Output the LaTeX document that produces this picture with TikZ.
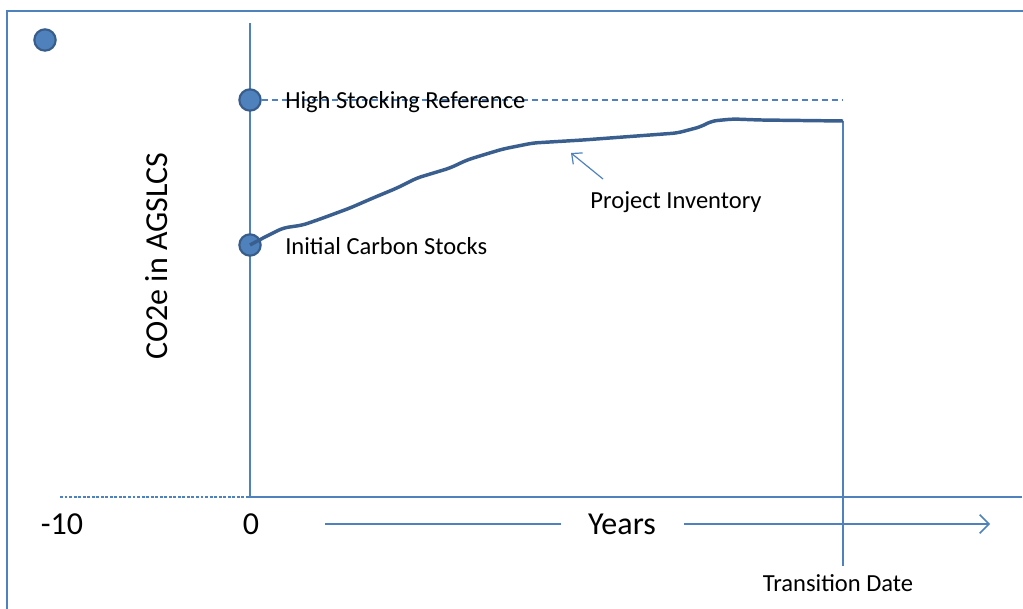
\documentclass[tikz,border=0pt]{standalone}
\usepackage{fontspec}
\setmainfont{Carlito}
\usetikzlibrary{arrows, arrows.meta}
\definecolor{axisblue}{HTML}{4F81BD}
\definecolor{curveblue}{HTML}{3A5F8F}
\definecolor{dotedge}{HTML}{385D8A}
\tikzset{
  axisline/.style={axisblue, line width=1.1pt},
  dot/.style={circle, draw=dotedge, fill=axisblue, line width=1.6pt, minimum size=16pt, inner sep=0pt},
  lbl/.style={font=\fontsize{18.4}{22}\selectfont, inner sep=0pt},
  biglbl/.style={font=\fontsize{24}{28}\selectfont, inner sep=0pt},
}

\begin{document}
\begin{tikzpicture}[x=0.75pt,y=-0.75pt]
\useasboundingbox (0,0) rectangle (1023,609);
\clip (0,0) rectangle (1023,609);
\draw[axisline] (7,11) rectangle (1060,660);
%---------------------------------------------------
\coordinate (ytop) at (250,23);
\coordinate (origin) at (250,497);
\coordinate (xend) at (1022,497);
\coordinate (xstart) at (60,497);
\coordinate (trans) at (843,121);
\coordinate (transbot) at (843,566);
\coordinate (highend) at (843,100);
\draw[axisline] (ytop) -- (origin) -- (xend);
\draw[axisline, line width=0.9pt, dash pattern=on 2.2pt off 1.2pt] (xstart) -- (origin);
\draw[axisline] (trans) -- (transbot);
%---------------------------------------------------
\node[dot] (topdot) at (45,40) {};
\node[dot] (high) at (250,100) {};
\node[dot] (init) at (250,245) {};
\draw[axisline, dash pattern=on 4.5pt off 3pt] (high) -- (highend);
\draw[curveblue, line width=2.6pt, line join=round, rounded corners=4pt]
  (init.center) -- (263,238) -- (283,228) -- (303,225) -- (323,218) -- (350,208)
  -- (373,198) -- (397,188) -- (417,178) -- (450,168) -- (467,160) -- (483,155)
  -- (503,149) -- (533,143) -- (583,140) -- (677,133) -- (700,127) -- (712,121)
  -- (733,119) -- (760,120) -- (trans);
%---------------------------------------------------
\node[lbl, anchor=west] (highlbl) at (285,102) {High Stocking Reference};
\node[lbl, anchor=west] (initlbl) at (285,246) {Initial Carbon Stocks};
\node[lbl] (projlbl) at (676,202) {Project Inventory};
\coordinate (projtip) at (571,153);
\draw[axisline, line width=0.9pt, -{Straight Barb[length=6pt, width=11pt]}] (603,179) -- (projtip);
\node[lbl] (translbl) at (838,583) {Transition Date};
%---------------------------------------------------
\node[biglbl] (minusten) at (62,524) {-10};
\node[biglbl] (zero) at (251,524) {0};
\node[biglbl] (years) at (622,524) {Years};
\coordinate (yearsl) at (325,524);
\coordinate (yearsr) at (990,524);
\draw[axisline] (yearsl) -- ([xshift=-20pt]years.west);
\draw[axisline, -{Straight Barb[length=7pt, width=14pt]}] ([xshift=21pt]years.east) -- (yearsr);
\node[biglbl, rotate=90] (ylbl) at (157,256) {CO2e in AGSLCS};
\end{tikzpicture}
\end{document}
